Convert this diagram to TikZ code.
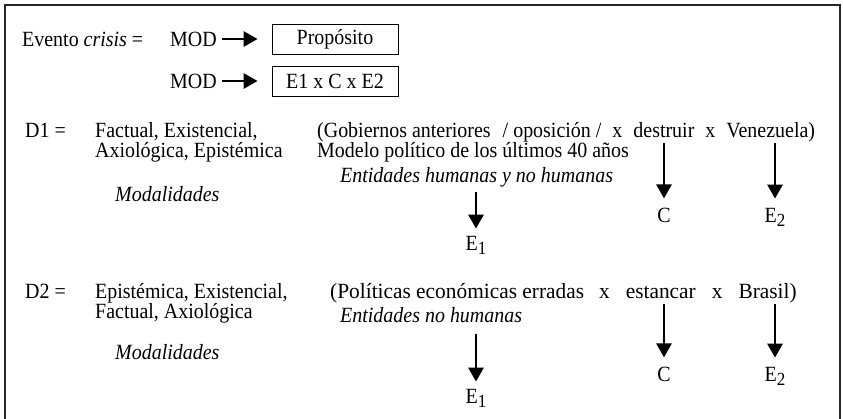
\documentclass[tikz,border=0pt]{standalone}
\usepackage{fontspec}
\setmainfont[FakeStretch=0.92]{Liberation Serif}
\usetikzlibrary{arrows.meta}
\newcommand{\subd}[1]{\raisebox{-4.5pt}{\fontsize{18.5}{18.5}\selectfont #1}}
\begin{document}
\begin{tikzpicture}[x=1pt,y=-1pt,
  txt/.style={inner sep=0pt,anchor=base west,text height=14pt,text depth=3pt,font=\fontsize{21.7}{20}\selectfont},
  ctxt/.style={inner sep=0pt,anchor=base,font=\fontsize{21.7}{20}\selectfont},
  boxn/.style={draw,line width=0.8pt,minimum width=126pt,minimum height=30pt,inner sep=0pt,font=\fontsize{21.7}{20}\selectfont},
  arr/.style={line width=2.8pt,-{Triangle[length=14pt,width=15pt]}},
  frame/.style={line width=2.2pt,draw=black!85}]
\useasboundingbox (0,0) rectangle (843,418);
\draw[frame] (5,420) -- (5,5) -- (840,5) -- (840,420);
% header
\node[txt] (ev) at (22,46) {Evento \textit{crisis} =};
\node[txt] (mod1) at (170,46) {MOD};
\node[boxn] (prop) at (335,39) {Propósito};
\draw[arr] ([xshift=5pt]mod1.east |- prop.center) -- ([xshift=-14pt]prop.west);
\node[txt] (mod2) at (170,88) {MOD};
\node[boxn] (ece) at (335,81) {E1 x C x E2};
\draw[arr] ([xshift=5pt]mod2.east |- ece.center) -- ([xshift=-14pt]ece.west);
% D1
\node[txt] (d1) at (25,137) {D1 =};
\node[txt] (d1a) at (95,137) {Factual, Existencial,};
\node[txt] (d1b) at (95,157) {Axiológica, Epistémica};
\node[txt] (mod3) at (115,201) {\textit{Modalidades}};
\node[txt] (g1a) at (317,137) {(Gobiernos anteriores\hspace{12pt}/ oposición /\hspace{11pt}x\hspace{11pt}destruir\hspace{11pt}x\hspace{11pt}Venezuela)};
\node[txt] (g1b) at (317,157) {Modelo político de los últimos 40 años};
\node[txt] (ent1) at (340,182) {\textit{Entidades humanas y no humanas}};
\node[ctxt] (e1a) at (476,250) {E\subd{1}};
\node[ctxt] (ca) at (664,222) {C};
\node[ctxt] (e2a) at (775,222) {E\subd{2}};
\coordinate (e1as) at (476,192);
\coordinate (cas) at (664,143);
\coordinate (e2as) at (775,143);
\draw[arr] (e1as) -- ([yshift=7pt]e1a.north);
\draw[arr] (cas) -- ([yshift=9pt]ca.north);
\draw[arr] (e2as) -- ([yshift=9pt]e2a.north);
% D2
\node[txt] (d2) at (25,298) {D2 =};
\node[txt] (d2a) at (95,298) {Epistémica, Existencial,};
\node[txt] (d2b) at (95,318) {Factual, Axiológica};
\node[txt] (mod4) at (115,359) {\textit{Modalidades}};
\node[txt] (g2) at (330,298) {\scalebox{1.07}[1]{(Políticas económicas erradas\hspace{14pt}x\hspace{15pt}estancar\hspace{15pt}x\hspace{15pt}Brasil)}};
\node[txt] (ent2) at (340,322) {\textit{Entidades no humanas}};
\node[ctxt] (e1b) at (476,403) {E\subd{1}};
\node[ctxt] (cb) at (664,381) {C};
\node[ctxt] (e2b) at (775,381) {E\subd{2}};
\coordinate (e1bs) at (476,334);
\coordinate (cbs) at (664,304);
\coordinate (e2bs) at (775,304);
\draw[arr] (e1bs) -- ([yshift=7pt]e1b.north);
\draw[arr] (cbs) -- ([yshift=9pt]cb.north);
\draw[arr] (e2bs) -- ([yshift=9pt]e2b.north);
\end{tikzpicture}
\end{document}
